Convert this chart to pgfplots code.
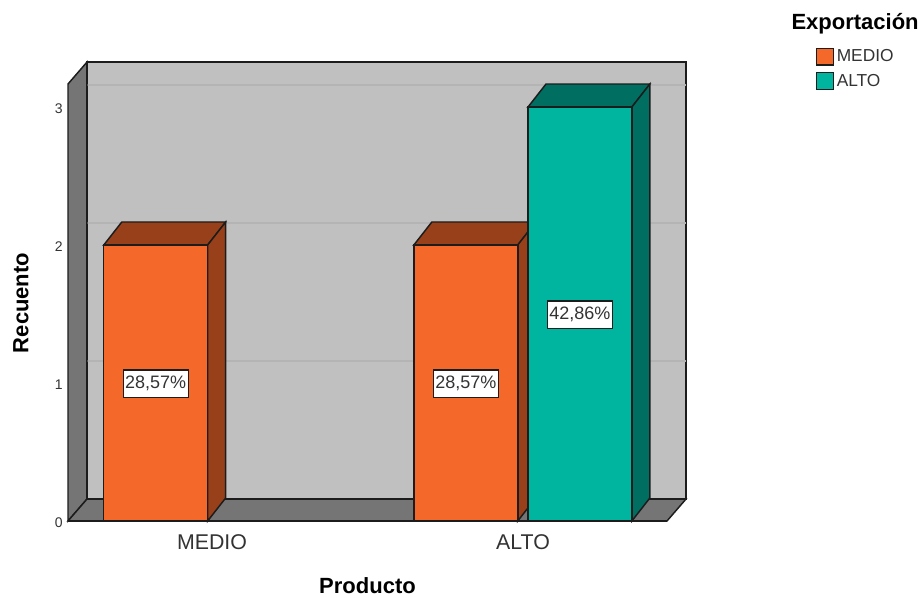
\documentclass[border=0pt]{standalone}
\usepackage{pgfplots}
\pgfplotsset{compat=1.18}
\usepackage{fontspec}
\setmainfont{Liberation Sans}
\definecolor{wall}{HTML}{C0C0C0}
\definecolor{side}{HTML}{757575}
\definecolor{gridc}{HTML}{B4B4B4}
\definecolor{edge}{HTML}{1C1C1C}
\definecolor{orangeF}{HTML}{F4682A}
\definecolor{orangeD}{HTML}{984019}
\definecolor{tealF}{HTML}{00B5A0}
\definecolor{tealD}{HTML}{006E60}
\definecolor{txt}{HTML}{333333}
\begin{document}
\begin{tikzpicture}
\useasboundingbox (0,0) rectangle (690.75pt,447.75pt);
\begin{axis}[
  at={(51pt,57pt)}, anchor=south west,
  scale only axis, width=449.25pt, height=327.75pt,
  xmin=-0.463, xmax=1.463, ymin=0, ymax=3.167,
  clip=false,
  axis line style={draw=none},
  tick style={draw=none},
  xtick={0,1}, xticklabels={MEDIO,ALTO},
  ytick={0,1,2,3},
  xticklabel style={font=\fontsize{16}{18}\selectfont, text=txt, yshift=-6.5pt},
  yticklabel style={font=\fontsize{10.5}{12}\selectfont, text=txt, xshift=-0.5pt, yshift=-1.5pt},
  /pgf/number format/assume math mode=true,
  xlabel={\textbf{Producto}},
  ylabel={\textbf{Recuento}},
  xlabel style={at={(axis description cs:0.5,-0.149)}, anchor=center, font=\fontsize{16.5}{18}\selectfont},
  ylabel style={at={(axis description cs:-0.0785,0.499)}, anchor=center, font=\fontsize{16.5}{18}\selectfont},
  legend style={at={(axis description cs:1.2485,1.085)}, anchor=north west, draw=none, fill=none,
    inner sep=0pt, font=\fontsize{13}{15}\selectfont, text=txt,
    row sep=3.6pt, /tikz/every even column/.append style={column sep=0pt}},
  legend cell align=left,
  legend image code/.code={\draw[#1, line width=1pt, bar width=0pt] (0pt,-6.2pt) rectangle (12.5pt,6.2pt);},
]
% Chart box: back wall, left wall, floor
\addplot[forget plot, mark=none, fill=wall, draw=edge, line width=1.1pt]
  coordinates {(-0.402,0.159) (1.524,0.159) (1.524,3.326) (-0.402,3.326)} -- cycle;
\addplot[forget plot, mark=none, draw=gridc, line width=1pt] coordinates {(-0.402,1.159) (1.524,1.159)};
\addplot[forget plot, mark=none, draw=gridc, line width=1pt] coordinates {(-0.402,2.159) (1.524,2.159)};
\addplot[forget plot, mark=none, draw=gridc, line width=1pt] coordinates {(-0.402,3.159) (1.524,3.159)};
\addplot[forget plot, mark=none, fill=side, draw=edge, line width=1.1pt]
  coordinates {(-0.463,0) (-0.402,0.159) (-0.402,3.326) (-0.463,3.167)} -- cycle;
\addplot[forget plot, mark=none, fill=side, draw=edge, line width=1.1pt]
  coordinates {(-0.463,0) (-0.402,0.159) (1.524,0.159) (1.463,0)} -- cycle;

% MEDIO bars: depth faces, then front faces
\addplot[forget plot, mark=none, fill=orangeD, draw=edge, line width=1.1pt]
  coordinates {(-0.348,2) (-0.290,2.167) (0.044,2.167) (-0.014,2)} -- cycle;
\addplot[forget plot, mark=none, fill=orangeD, draw=edge, line width=1.1pt]
  coordinates {(-0.014,0) (0.044,0.167) (0.044,2.167) (-0.014,2)} -- cycle;
\addplot[forget plot, mark=none, fill=orangeD, draw=edge, line width=1.1pt]
  coordinates {(0.649,2) (0.707,2.167) (1.041,2.167) (0.983,2)} -- cycle;
\addplot[forget plot, mark=none, fill=orangeD, draw=edge, line width=1.1pt]
  coordinates {(0.983,0) (1.041,0.167) (1.041,2.167) (0.983,2)} -- cycle;
\addplot[ybar, bar width=78pt, bar shift=0pt, fill=orangeF, draw=edge, line width=1.1pt, mark=none]
  coordinates {(-0.181,2) (0.816,2)};
\addlegendentry{MEDIO}

% ALTO bar
\addplot[forget plot, mark=none, fill=tealD, draw=edge, line width=1.1pt]
  coordinates {(1.016,3) (1.074,3.167) (1.408,3.167) (1.350,3)} -- cycle;
\addplot[forget plot, mark=none, fill=tealD, draw=edge, line width=1.1pt]
  coordinates {(1.350,0) (1.408,0.167) (1.408,3.167) (1.350,3)} -- cycle;
\addplot[ybar, bar width=78pt, bar shift=0pt, fill=tealF, draw=edge, line width=1.1pt, mark=none]
  coordinates {(1.183,3)};
\addlegendentry{ALTO}

% Front floor edge
\addplot[forget plot, mark=none, draw=edge, line width=1.3pt] coordinates {(-0.463,0) (1.463,0)};

% Percentage labels at mid-height of each bar
\addplot[forget plot, draw=none, mark=none,
  nodes near coords, point meta=explicit symbolic,
  nodes near coords align={anchor=center},
  every node near coord/.append style={anchor=center, fill=white, draw=edge, line width=0.8pt,
    font=\fontsize{13.5}{15}\selectfont, text=txt, inner xsep=1.5pt, inner ysep=0pt,
    minimum height=20.5pt, yshift=-0.5pt}]
  table[meta=label, row sep=\\] {
    x y label\\
    -0.181 1 {28,57\%}\\
    0.816 1 {28,57\%}\\
    1.183 1.5 {42,86\%}\\
  };

\node[font=\fontsize{16.5}{18}\selectfont\bfseries, anchor=center]
  at (axis description cs:1.314,1.137) {Exportación};
\end{axis}
\end{tikzpicture}
\end{document}
